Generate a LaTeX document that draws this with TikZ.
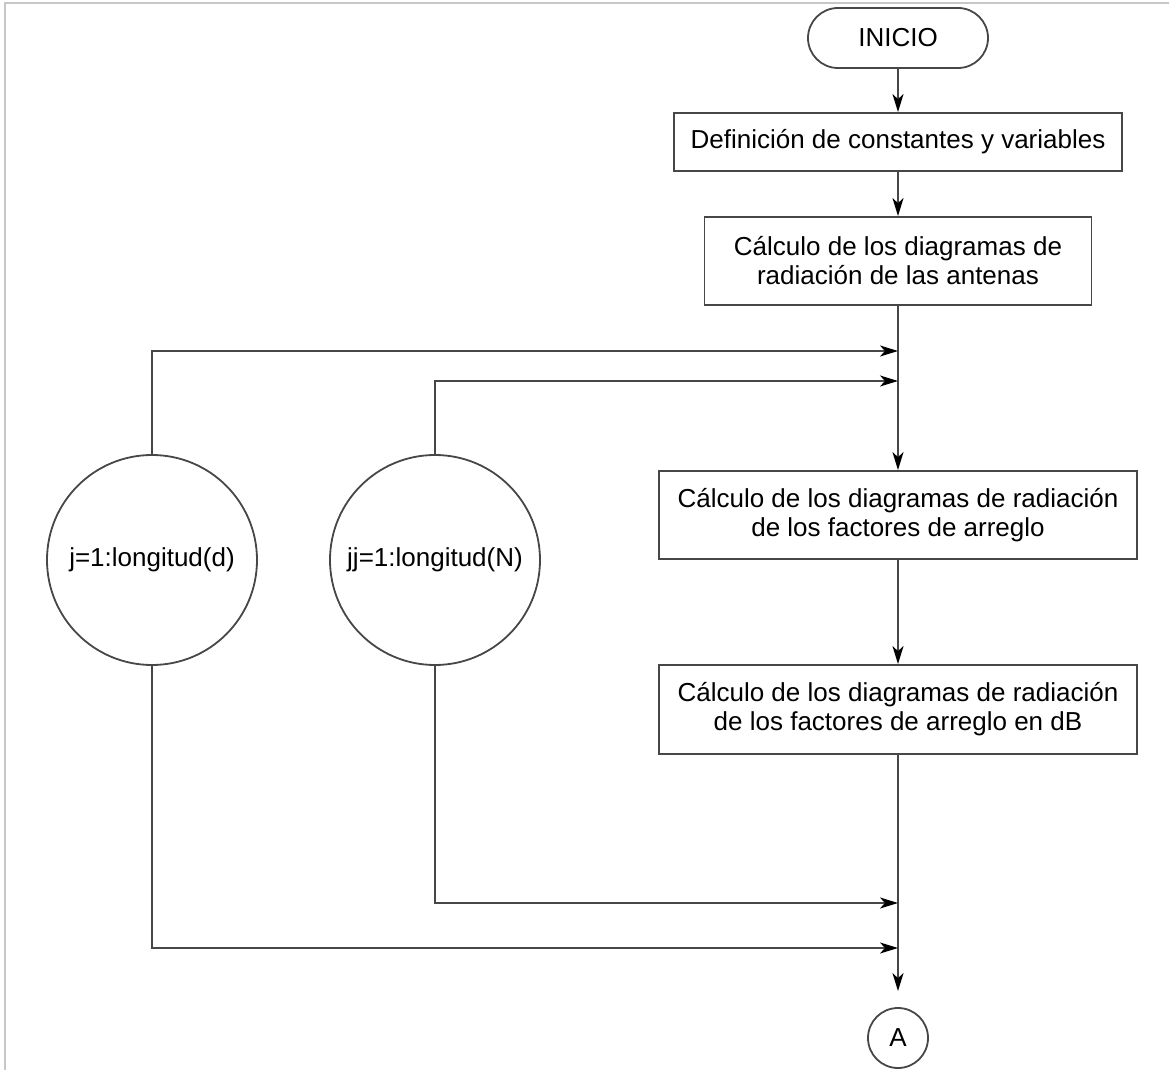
\documentclass[tikz,border=0pt]{standalone}
\usepackage{fontspec}
\setmainfont{Liberation Sans}
\usetikzlibrary{arrows.meta}
\begin{document}
\begin{tikzpicture}[x=0.5pt,y=-0.5pt,
  font=\fontsize{13pt}{14.5pt}\selectfont,
  linecol/.style={draw=black!72, line width=0.9pt},
  procbox/.style={linecol, rectangle, align=center, inner sep=0pt},
  loopcirc/.style={linecol, circle, minimum size=105pt, inner sep=0pt},
  arr/.style={linecol, -{Stealth[length=9pt,width=5.5pt,inset=2.5pt,fill=black,black]}}
]
\useasboundingbox (0,0) rectangle (1169,1070);
% screenshot frame
\draw[black!22, line width=1pt] (5,1070) -- (5,3) -- (1169,3);

\node[linecol, rounded corners=15pt, minimum width=90pt, minimum height=30pt] (inicio) at (898,38) {INICIO};
\node[procbox, minimum width=224pt, minimum height=29pt] (b1) at (898,142) {Definición de constantes y variables};
\node[procbox, minimum width=193.5pt, minimum height=44pt] (b2) at (898,261) {Cálculo de los diagramas de\\radiación de las antenas};
\node[procbox, minimum width=239pt, minimum height=44pt] (b3) at (898,515) {Cálculo de los diagramas de radiación\\de los factores de arreglo};
\node[procbox, minimum width=239pt, minimum height=44.5pt] (b4) at (898,709.5) {Cálculo de los diagramas de radiación\\de los factores de arreglo en dB};
\node[linecol, circle, minimum size=30pt, inner sep=0pt] (A) at (898,1038) {A};

\node[loopcirc] (cj) at (152,560) {j=1:longitud(d)};
\node[loopcirc] (cjj) at (435,560) {jj=1:longitud(N)};

\coordinate (m1) at (898,351);
\coordinate (m2) at (898,381);
\coordinate (m3) at (898,903);
\coordinate (m4) at (898,948);

\draw[arr] (inicio.south) -- (b1.north);
\draw[arr] (b1.south) -- (b2.north);
\draw[arr] (b2.south) -- (b3.north);
\draw[arr] (b3.south) -- (b4.north);
\draw[arr, shorten >=8pt] (b4.south) -- (A.north);

\draw[arr] (cj.north) |- (m1);
\draw[arr] (cjj.north) |- (m2);
\draw[arr] (cjj.south) |- (m3);
\draw[arr] (cj.south) |- (m4);
\end{tikzpicture}
\end{document}
